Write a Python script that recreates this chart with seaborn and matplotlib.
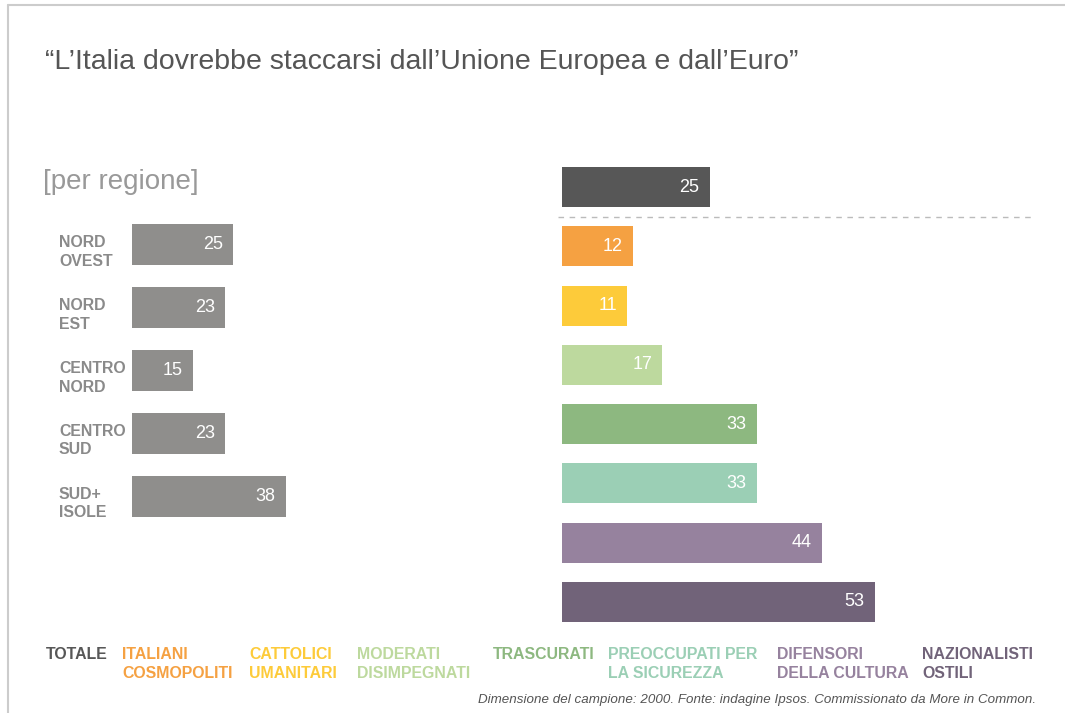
import matplotlib
matplotlib.use("Agg")
import matplotlib.pyplot as plt
import seaborn as sns
import pandas as pd
from matplotlib.lines import Line2D
from matplotlib.transforms import ScaledTranslation

# ---- data ----
regions = ["NORD\nOVEST", "NORD\nEST", "CENTRO\nNORD", "CENTRO\nSUD", "SUD+\nISOLE"]
region_values = [25, 23, 15, 23, 38]

segments = ["TOTALE", "ITALIANI\nCOSMOPOLITI", "CATTOLICI\nUMANITARI", "MODERATI\nDISIMPEGNATI",
            "TRASCURATI", "PREOCCUPATI PER\nLA SICUREZZA", "DIFENSORI\nDELLA CULTURA",
            "NAZIONALISTI\nOSTILI"]
segment_values = [25, 12, 11, 17, 33, 33, 44, 53]
segment_colors = ["#575757", "#F5A142", "#FDCB3A", "#BDD99E", "#8DB880", "#9BCFB5",
                  "#96829E", "#716379"]
region_color = "#8F8E8C"

title = "\u201cL\u2019Italia dovrebbe staccarsi dall\u2019Unione Europea e dall\u2019Euro\u201d"
subtitle = "[per regione]"
caption = "Dimensione del campione: 2000. Fonte: indagine Ipsos. Commissionato da More in Common."

sns.set_theme(style="white")
plt.rcParams["font.family"] = ["Liberation Sans", "DejaVu Sans"]

W, H = 1065, 713
fig = plt.figure(figsize=(W / 100, H / 100), dpi=100)
fig.patch.set_facecolor("white")

def ax_rect(x0, y0, x1, y1):
    return [x0 / W, 1 - y1 / H, (x1 - x0) / W, (y1 - y0) / H]

# frame lines (top and left)
fig.add_artist(Line2D([8 / W, 1], [1 - 5 / H, 1 - 5 / H], color="#cccccc", lw=1.5))
fig.add_artist(Line2D([8 / W, 8 / W], [0, 1 - 5 / H], color="#cccccc", lw=1.5))

# ---- left: per regione ----
axL = fig.add_axes(ax_rect(132, 213.5, 536, 527.5))
dfL = pd.DataFrame({"regione": regions, "valore": region_values})
sns.barplot(data=dfL, y="regione", x="valore", color=region_color, orient="h",
            width=0.65, ax=axL, saturation=1, linewidth=0)
axL.set_xlim(0, 100)
axL.set_ylim(len(regions) - 0.5, -0.5)
for i, v in enumerate(region_values):
    axL.text(v - 10 / 4.04, i, str(v), color="white", ha="right", va="center", fontsize=13)
axL.set_xlabel("")
axL.set_ylabel("")
axL.set_xticks([])
axL.tick_params(axis="y", length=0, pad=52.6, labelsize=11.4, labelcolor="#8a8a8a")
shift = ScaledTranslation(0, -4 / 100, fig.dpi_scale_trans)
for lab in axL.get_yticklabels():
    lab.set_ha("left")
    lab.set_fontweight("bold")
    lab.set_linespacing(1.3)
    lab.set_transform(lab.get_transform() + shift)
sns.despine(ax=axL, left=True, bottom=True)

# ---- right: segmenti ----
axR = fig.add_axes(ax_rect(562, 157.4, 1034, 631.6))
dfR = pd.DataFrame({"segmento": segments, "valore": segment_values})
sns.barplot(data=dfR, y="segmento", x="valore", hue="segmento", palette=segment_colors,
            orient="h", width=0.675, ax=axR, legend=False, saturation=1, linewidth=0)
axR.set_xlim(0, 80)
axR.set_ylim(len(segments) - 0.5, -0.5)
for i, v in enumerate(segment_values):
    axR.text(v - 10 / 5.9, i, str(v), color="white", ha="right", va="center", fontsize=13)
axR.plot([-0.7, 80], [0.5, 0.5], ls=(0, (4, 4)), color="#bbbbbb", lw=1, clip_on=False)
axR.set_xlabel("")
axR.set_ylabel("")
axR.set_xticks([])
axR.set_yticks([])
sns.despine(ax=axR, left=True, bottom=True)

# ---- texts ----
fig.text(45 / W, 1 - 62 / H, title, fontsize=20.5, color="#555555", ha="left", va="center")
fig.text(43 / W, 1 - 182 / H, subtitle, fontsize=20, color="#999999", ha="left", va="center")

legend_x = [46, 122, 249, 357, 493, 608, 777, 922]
for x, s, c in zip(legend_x, segments, segment_colors):
    fig.text(x / W, 1 - 647 / H, s, fontsize=11.4, color=c, fontweight="bold",
             ha="left", va="top", linespacing=1.3)

fig.text(1036 / W, 1 - 700 / H, caption, fontsize=9.6, color="#555555", style="italic",
         ha="right", va="center")

fig.savefig("out.png", dpi=100)
